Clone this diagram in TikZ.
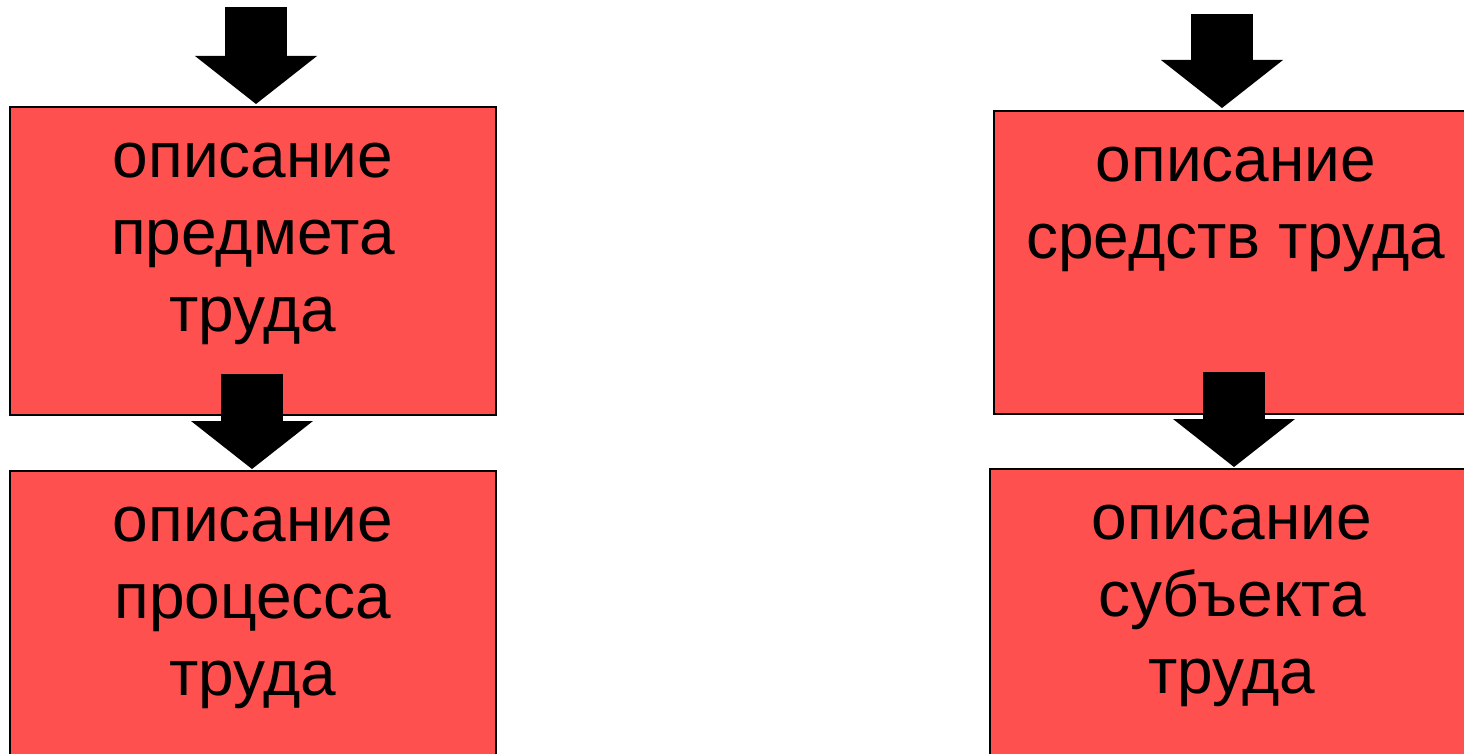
\documentclass[tikz,border=0pt]{standalone}
\usepackage{fontspec}
\setmainfont{Liberation Sans}
\usetikzlibrary{arrows.meta}
\definecolor{boxred}{RGB}{255,80,80}
\begin{document}
\begin{tikzpicture}
  [
  x=1pt, y=-1pt, line width=2pt,
  stage/.style={rectangle, draw=black, fill=boxred, inner sep=0pt, outer sep=0pt,
    minimum width=486pt, minimum height=308pt, anchor=north west},
  caption/.style={anchor=north, inner sep=0pt, align=center, font=\fontsize{64}{77}\selectfont},
  bigarrow/.style={draw=black, line width=62pt, -{Triangle[width=122pt, length=48pt, line width=0pt]}}
  ]

\useasboundingbox (0,0) rectangle (1464,754);

% left column
\node[stage] (b1) at (10,107) {};
\node[stage] (b2) at (10,471) {};
% right column
\node[stage, minimum width=484pt, minimum height=303pt] (b3) at (994,111) {};
\node[stage, minimum width=484pt] (b4) at (990,469) {};

\node[caption] (t1) at ([yshift=-16pt]b1.north) {\strut описание\\предмета\\труда};
\node[caption] (t2) at ([yshift=-16pt]b2.north) {\strut описание\\процесса\\труда};
\node[caption] (t3) at ([yshift=-16pt]b3.north) {\strut описание\\средств труда};
\node[caption] (t4) at ([yshift=-16pt]b4.north) {\strut описание\\субъекта\\труда};

\coordinate (in1) at (256,7);
\coordinate (in2) at (1222,14);
\coordinate (m1) at (252,374);
\coordinate (m2) at (1234,372);

\draw[bigarrow, shorten >=3pt] (in1) -- (in1 |- b1.north);
\draw[bigarrow, shorten >=3pt] (in2) -- (in2 |- b3.north);
\draw[bigarrow, shorten >=2pt] (m1) -- (m1 |- b2.north);
\draw[bigarrow, shorten >=2pt] (m2) -- (m2 |- b4.north);

\end{tikzpicture}
\end{document}
